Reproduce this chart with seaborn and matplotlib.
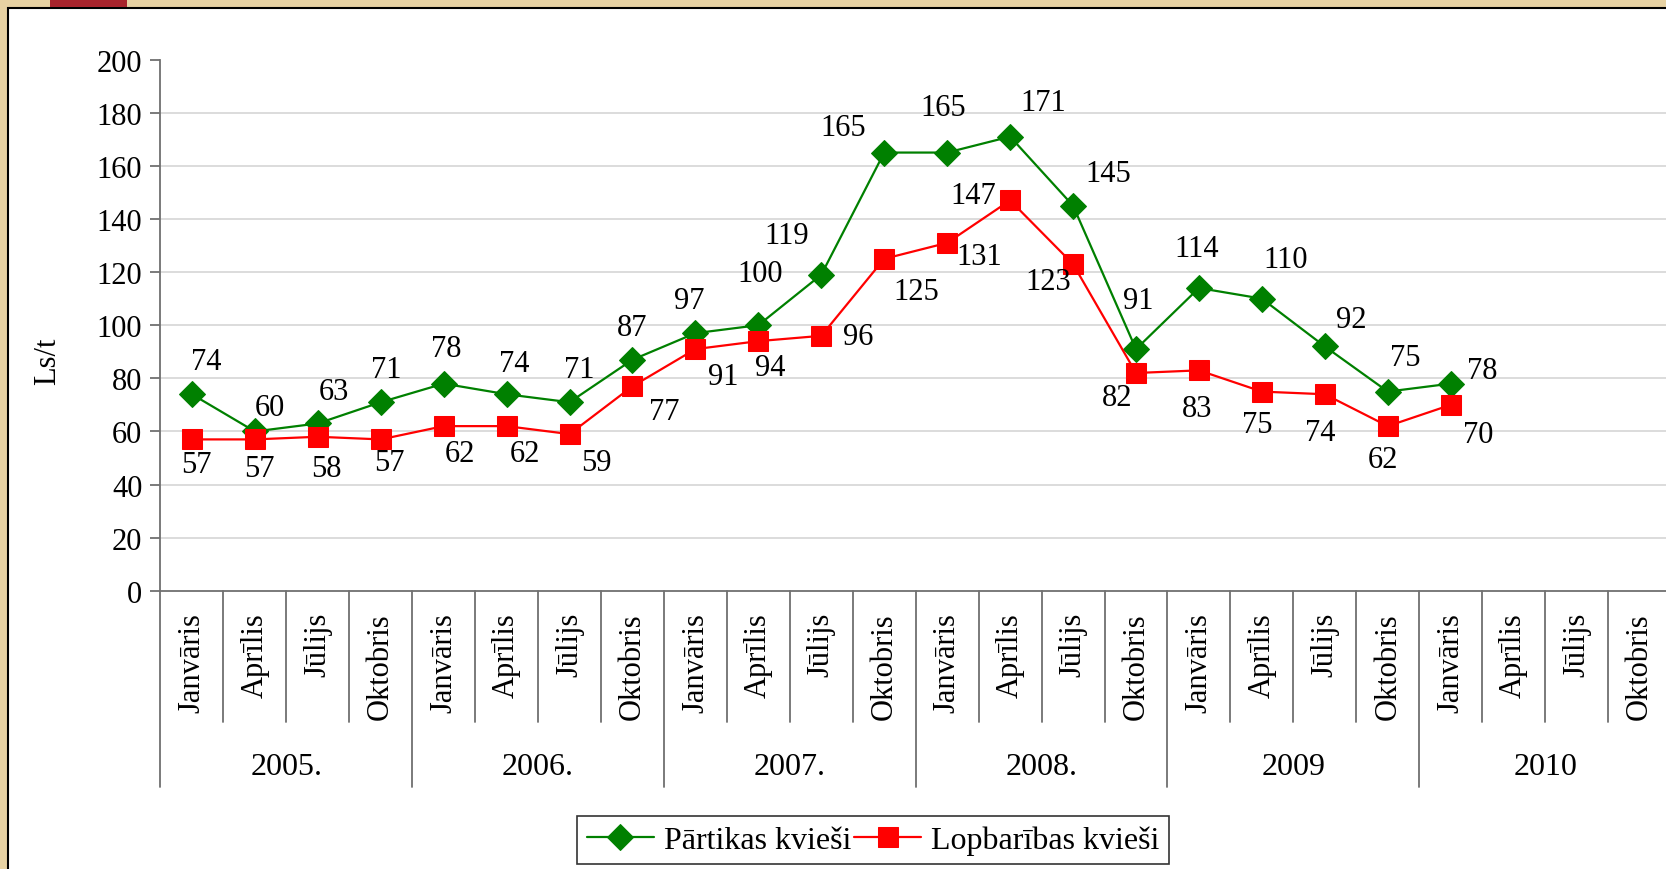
import numpy as np
import pandas as pd
import matplotlib
matplotlib.use("Agg")
import matplotlib.pyplot as plt
import matplotlib.patches as mpatches
import matplotlib.transforms as mtransforms
import seaborn as sns

# ------------------------------
# Data
# ------------------------------
months = ["Janvāris", "Aprīlis", "Jūlijs", "Oktobris"]
years = ["2005.", "2006.", "2007.", "2008.", "2009", "2010"]

partikas = [74, 60, 63, 71, 78, 74, 71, 87, 97, 100, 119, 165,
            165, 171, 145, 91, 114, 110, 92, 75, 78]
lopbaribas = [57, 57, 58, 57, 62, 62, 59, 77, 91, 94, 96, 125,
              131, 147, 123, 82, 83, 75, 74, 62, 70]

# label offsets (pixels, x right / y down)
green_off = [(14, -31), (14, -23), (15, -30), (5, -31), (2, -33), (7, -29), (9, -31),
             (0, -30), (-6, -31), (2, -49), (-33, -37), (-39, -24), (-4, -42), (31, -32),
             (33, -30), (2, -46), (-2, -37), (22, -37), (25, -25), (16, -32), (30, -12)]
red_off = [(4, 24), (4, 27), (8, 30), (8, 22), (15, 26), (17, 26), (25, 27),
           (30, 24), (26, 26), (11, 25), (35, 1), (30, 31), (30, 13), (-35, -5),
           (-23, 16), (-18, 23), (-2, 36), (-4, 31), (-4, 36), (-5, 31), (26, 28)]

n_cat = len(months) * len(years)
pos = np.arange(len(partikas))

# ------------------------------
# Figure
# ------------------------------
sns.set_style("white")
plt.rcParams['font.family'] = ['Liberation Serif', 'DejaVu Serif']
plt.rcParams['text.color'] = 'black'
plt.rcParams['ytick.labelcolor'] = 'black'

W, H = 1666, 870
fig = plt.figure(figsize=(W / 100, H / 100), dpi=100)
fig.patch.set_facecolor("#e7d2a3")

# white panel with black frame and small red tab
fig.patches.append(mpatches.Rectangle((8 / W, -0.01), 1, 1.01 - 9 / H, transform=fig.transFigure,
                                      facecolor="white", edgecolor="black", lw=1.5, zorder=-10))
fig.patches.append(mpatches.Rectangle((50 / W, 1 - 8 / H), 77 / W, 8 / H, transform=fig.transFigure,
                                      facecolor="#a8242c", edgecolor="none", zorder=-10))

left, right, top, bottom = 160.4, 1671.0, 60.6, 591.8
ax = fig.add_axes([left / W, 1 - bottom / H, (right - left) / W, (bottom - top) / H])
ax.set_facecolor("none")

sns.lineplot(x=pos, y=partikas, ax=ax, color="#008000", marker="D", markersize=13,
             markeredgecolor="#008000", lw=1.6, label="Pārtikas kvieši", zorder=3)
sns.lineplot(x=pos, y=lopbaribas, ax=ax, color="#ff0000", marker="s", markersize=14,
             markeredgecolor="#ff0000", lw=1.6, label="Lopbarības kvieši", zorder=3)

ax.set_xlim(-0.5, n_cat - 0.5)
ax.set_ylim(0, 200)
yt = np.arange(0, 201, 20)
ax.set_yticks(yt)
ax.set_yticklabels([str(v) for v in yt], fontsize=22, color="black")
for v in yt[1:-1]:
    ax.axhline(v, color="#d9d9d9", lw=1.3, zorder=0)
ax.set_xticks([])
ax.tick_params(axis="y", direction="out", length=7, width=1.3, color="#707070", pad=6, left=True)
for s in ["top", "right"]:
    ax.spines[s].set_visible(False)
for s in ["left", "bottom"]:
    ax.spines[s].set_color("#707070")
    ax.spines[s].set_linewidth(1.3)
ax.set_xlabel("")
ax.set_ylabel("")

# data labels
for i, v in enumerate(partikas):
    ax.annotate(str(v), (i, v), xytext=(green_off[i][0] * 1.0625, -green_off[i][1] * 1.0625),
                textcoords="offset pixels", ha="center", va="center", fontsize=22, color="black")
for i, v in enumerate(lopbaribas):
    ax.annotate(str(v), (i, v), xytext=(red_off[i][0] * 1.0625, -red_off[i][1] * 1.0625),
                textcoords="offset pixels", ha="center", va="center", fontsize=22, color="black")

# category axis: months and years
trans = mtransforms.blended_transform_factory(ax.transData, ax.transAxes)
ph = bottom - top
m_end = -(723 - bottom) / ph
y_end = -(788 - bottom) / ph
m_txt = -(613 - bottom) / ph
y_txt = -(768 - bottom) / ph
for k in range(n_cat + 1):
    yb = y_end if k % 4 == 0 else m_end
    ax.plot([k - 0.5, k - 0.5], [0, yb], transform=trans, color="#707070", lw=1.3, clip_on=False)
for k in range(n_cat):
    ax.text(k, m_txt, months[k % 4], transform=trans, rotation=90, ha="center", va="top",
            fontsize=22, color="black")
for j, yr in enumerate(years):
    ax.text(j * 4 + 1.5, y_txt, yr, transform=trans, ha="center", va="center", fontsize=23, color="black")

fig.text(48 / W, 1 - 361 / H, "Ls/t", rotation=90, ha="center", va="center", fontsize=22, color="black")

ax.get_legend().remove()
handles, labels = ax.get_legend_handles_labels()
leg = fig.legend(handles, labels, loc="center", bbox_to_anchor=(873 / W, 1 - 841 / H), ncol=2,
                 fontsize=23, frameon=True, fancybox=False, edgecolor="black", handlelength=2.1,
                 handletextpad=0.3, columnspacing=0.1, borderpad=0.3, borderaxespad=0,
                 labelcolor="black")
leg.get_frame().set_linewidth(1.2)

fig.savefig("out.png", dpi=100, facecolor=fig.get_facecolor())
